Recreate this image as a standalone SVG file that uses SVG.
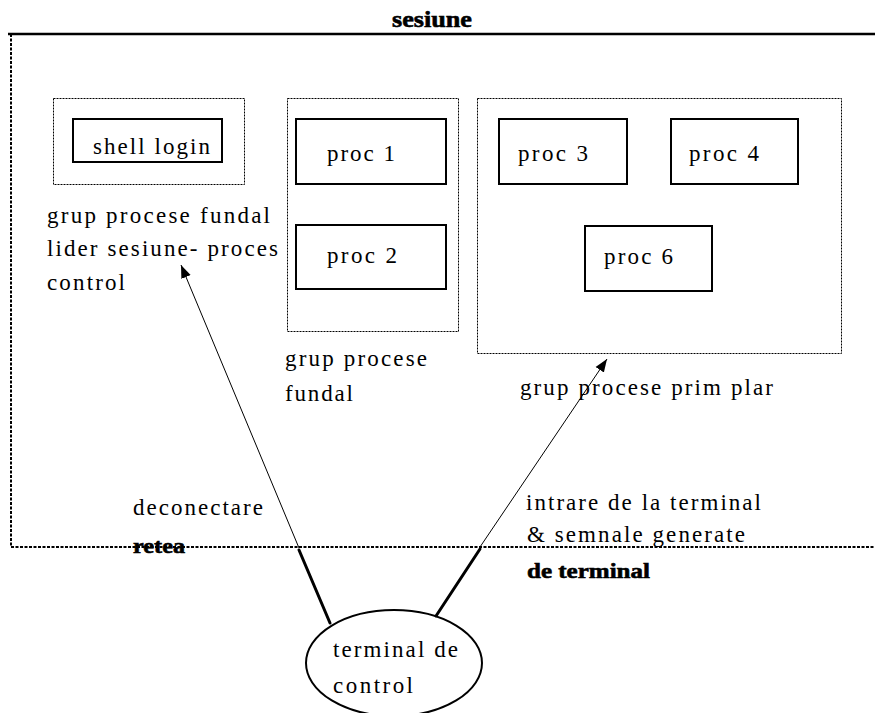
<svg xmlns="http://www.w3.org/2000/svg" width="875" height="713" viewBox="0 0 875 713">
  <style>
    text { font-family: "Liberation Serif", "Times New Roman", serif; font-size: 23px; fill: #000; }
    .bold { font-weight: bold; font-size: 22px; stroke: #000; stroke-width: 0.6; }
    .proc { fill: #fff; stroke: #000; stroke-width: 2; }
    .group { fill: none; stroke: #000; stroke-width: 1; stroke-dasharray: 2 1; }
    .session { fill: none; stroke: #000; stroke-width: 2; stroke-dasharray: 3 1.5; }
    .thin { fill: none; stroke: #000; stroke-width: 1; }
    .thick { fill: none; stroke: #000; stroke-width: 3; stroke-linecap: round; }
  </style>
  <defs>
    <marker id="head" markerUnits="userSpaceOnUse" markerWidth="14" markerHeight="12" refX="13" refY="6" orient="auto">
      <path d="M0,1 L13,6 L0,11 Z" fill="#000"/>
    </marker>
  </defs>
  <rect width="875" height="713" fill="#fff"/>

  <!-- session frame -->
  <g id="session">
    <line x1="8" y1="34" x2="875" y2="34" stroke="#000" stroke-width="2.5"/>
    <path class="session" d="M11,34 V547 H875"/>
    <text class="bold" x="392" y="27" textLength="80" lengthAdjust="spacingAndGlyphs" style="font-size:24px">sesiune</text>
  </g>

  <!-- background group with the login shell -->
  <g id="group-login">
    <rect class="group" x="53.5" y="98.5" width="191" height="86"/>
    <text x="47" y="223" textLength="223" lengthAdjust="spacing">grup procese fundal</text>
    <text x="47" y="256" textLength="231" lengthAdjust="spacing">lider sesiune- proces</text>
    <text x="47" y="290" textLength="78" lengthAdjust="spacing">control</text>
  </g>
  <g id="shell-login">
    <rect class="proc" x="73" y="119" width="149" height="43"/>
    <text x="93" y="154" textLength="117" lengthAdjust="spacing">shell login</text>
  </g>

  <!-- background group -->
  <g id="group-background">
    <rect class="group" x="287.5" y="98.5" width="171" height="233"/>
    <text x="285" y="366" textLength="142" lengthAdjust="spacing">grup procese</text>
    <text x="285" y="401" textLength="68" lengthAdjust="spacing">fundal</text>
  </g>
  <g id="proc1">
    <rect class="proc" x="296" y="119" width="150" height="65"/>
    <text x="327" y="161" textLength="68" lengthAdjust="spacing">proc 1</text>
  </g>
  <g id="proc2">
    <rect class="proc" x="296" y="225" width="150" height="64"/>
    <text x="327" y="263" textLength="70" lengthAdjust="spacing">proc 2</text>
  </g>

  <!-- foreground group -->
  <g id="group-foreground">
    <rect class="group" x="477.5" y="98.5" width="364" height="255"/>
    <text x="520" y="395" textLength="253" lengthAdjust="spacing">grup procese prim plar</text>
  </g>
  <g id="proc3">
    <rect class="proc" x="499" y="119" width="128" height="65"/>
    <text x="518" y="161" textLength="70" lengthAdjust="spacing">proc 3</text>
  </g>
  <g id="proc4">
    <rect class="proc" x="671" y="119" width="127" height="65"/>
    <text x="689" y="161" textLength="70" lengthAdjust="spacing">proc 4</text>
  </g>
  <g id="proc6">
    <rect class="proc" x="585" y="226" width="127" height="65"/>
    <text x="604" y="264" textLength="69" lengthAdjust="spacing">proc 6</text>
  </g>

  <!-- controlling terminal -->
  <g id="terminal">
    <ellipse cx="394" cy="663" rx="88" ry="53" fill="#fff" stroke="#000" stroke-width="2"/>
    <text x="333" y="657" textLength="125" lengthAdjust="spacing">terminal de</text>
    <text x="333" y="693" textLength="80" lengthAdjust="spacing">control</text>
  </g>

  <!-- connectors -->
  <g id="connectors">
    <line class="thin" x1="299" y1="548" x2="181" y2="265" marker-end="url(#head)"/>
    <line class="thick" x1="299" y1="550" x2="330" y2="623"/>
    <line class="thin" x1="480" y1="547" x2="607" y2="359" marker-end="url(#head)"/>
    <line class="thick" x1="480" y1="549" x2="436" y2="616"/>
  </g>

  <!-- connector labels -->
  <g id="labels">
    <text x="133" y="515" textLength="130" lengthAdjust="spacing">deconectare</text>
    <text class="bold" x="133" y="553" textLength="52" lengthAdjust="spacingAndGlyphs">retea</text>
    <text x="526" y="510" textLength="235" lengthAdjust="spacing">intrare de la terminal</text>
    <text x="527" y="542" textLength="218" lengthAdjust="spacing">&amp; semnale generate</text>
    <text class="bold" x="527" y="578" textLength="123" lengthAdjust="spacingAndGlyphs">de terminal</text>
  </g>
</svg>
